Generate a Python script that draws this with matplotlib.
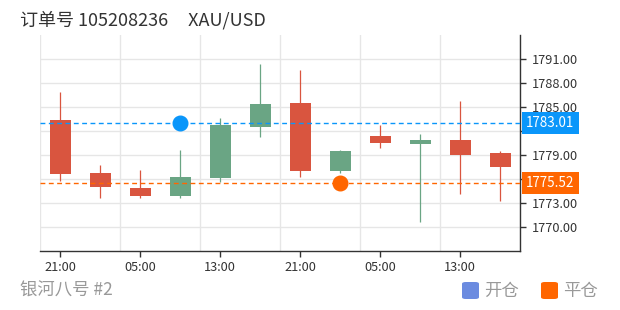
#! /usr/bin/env python
# K线图: 订单开仓/平仓点位
import matplotlib
matplotlib.use("Agg")
import matplotlib.pyplot as plt
import matplotlib.transforms as mtransforms
from matplotlib.patches import FancyBboxPatch

plt.rcParams['font.family'] = ['Noto Sans CJK SC', 'DejaVu Sans']

# data (4h candles)
times = ['21:00', '01:00', '05:00', '09:00', '13:00', '17:00',
         '21:00', '01:00', '05:00', '09:00', '13:00', '17:00']
opens  = [1783.41, 1776.79, 1774.95, 1773.95, 1776.20, 1782.58,
          1785.54, 1777.00, 1781.41, 1780.37, 1780.91, 1779.25]
closes = [1776.66, 1775.08, 1773.95, 1776.33, 1782.75, 1785.45,
          1777.00, 1779.54, 1780.54, 1780.91, 1779.08, 1777.54]
highs  = [1786.83, 1777.83, 1777.16, 1779.66, 1783.66, 1790.41,
          1789.66, 1779.66, 1782.79, 1781.62, 1785.83, 1779.54]
lows   = [1775.83, 1773.62, 1773.70, 1773.70, 1775.70, 1781.29,
          1776.33, 1776.75, 1779.91, 1770.62, 1774.12, 1773.33]

open_idx, open_price = 3, 1783.01
close_idx, close_price = 7, 1775.52

yticks = [1770, 1773, 1776, 1779, 1782, 1785, 1788, 1791]
ytick_labels = ['1770.00', '1773.00', '', '1779.00', '', '1785.00', '1788.00', '1791.00']

up_color = '#6aa584'
down_color = '#d9553f'
open_color = '#0a96fa'
close_color = '#ff6600'
grid_color = '#e6e6e6'
axis_color = '#333333'

fig = plt.figure(figsize=(6.2, 3.1), dpi=100)
ax = fig.add_axes([40/620, 1 - 250.7/310, 480.3/620, 215.7/310])

n = len(times)
for i in range(n):
    o, c, h, l = opens[i], closes[i], highs[i], lows[i]
    col = up_color if c >= o else down_color
    ax.vlines(i, l, h, color=col, linewidth=0.9, zorder=3)
    ax.bar(i, abs(c - o), bottom=min(o, c), width=0.525, color=col,
           edgecolor='none', zorder=4)

ax.set_xlim(-0.5, n - 0.5)
ax.set_ylim(1767.1, 1794.0)

# grid
for y in yticks:
    ax.axhline(y, color=grid_color, linewidth=1, zorder=1)
for x in range(-1, n, 2):
    ax.axvline(x + 0.5, color=grid_color, linewidth=1, zorder=1)

# order lines and markers
ax.axhline(open_price, color=open_color, linewidth=1, linestyle=(0, (3.5, 2.5)), zorder=5)
ax.axhline(close_price, color=close_color, linewidth=1, linestyle=(0, (3.5, 2.5)), zorder=5)
ax.plot(open_idx, open_price, 'o', color=open_color, markersize=10.5, zorder=6, clip_on=False)
ax.plot(close_idx, close_price, 'o', color=close_color, markersize=10.5, zorder=6, clip_on=False)

# axes styling
for s in ['left', 'top']:
    ax.spines[s].set_visible(False)
for s in ['bottom', 'right']:
    ax.spines[s].set_color(axis_color)
    ax.spines[s].set_linewidth(1)

ax.yaxis.tick_right()
ax.set_yticks(yticks)
ax.set_yticklabels(ytick_labels)
ax.set_xticks(range(0, n, 2))
ax.set_xticklabels(times[0::2])
ax.tick_params(axis='both', colors=axis_color, labelcolor='#333333', labelsize=9.2,
               length=4, width=1)
ax.tick_params(axis='y', pad=4)

# price labels on the right
trans = mtransforms.blended_transform_factory(ax.transAxes, ax.transData)
for price, col in [(open_price, open_color), (close_price, close_color)]:
    ax.text(1.0 + 6/480.3, price, '%.2f' % price, transform=trans, ha='left', va='center',
            color='white', fontsize=9.7, clip_on=False, zorder=7,
            bbox=dict(boxstyle='square,pad=0.3', facecolor=col, edgecolor='none'))

# title and footer
fig.text(20/620, 1 - 20/310, '订单号 105208236     XAU/USD', ha='left', va='center',
         fontsize=13, color='#333333')
fig.text(20/620, 1 - 291/310, '银河八号 #2', ha='left', va='center',
         fontsize=12.5, color='#999999')

# legend
for x0, label, col in [(462, '开仓', '#6b8be0'), (541, '平仓', close_color)]:
    fig.patches.append(FancyBboxPatch((x0/620, 1 - 299/310), 17/620, 17/310,
                                      boxstyle='round,pad=0,rounding_size=0.006',
                                      transform=fig.transFigure, facecolor=col,
                                      edgecolor='none'))
    fig.text((x0 + 22)/620, 1 - 291/310, label, ha='left', va='center',
             fontsize=12.5, color='#999999')

fig.savefig('out.png', dpi=100)
